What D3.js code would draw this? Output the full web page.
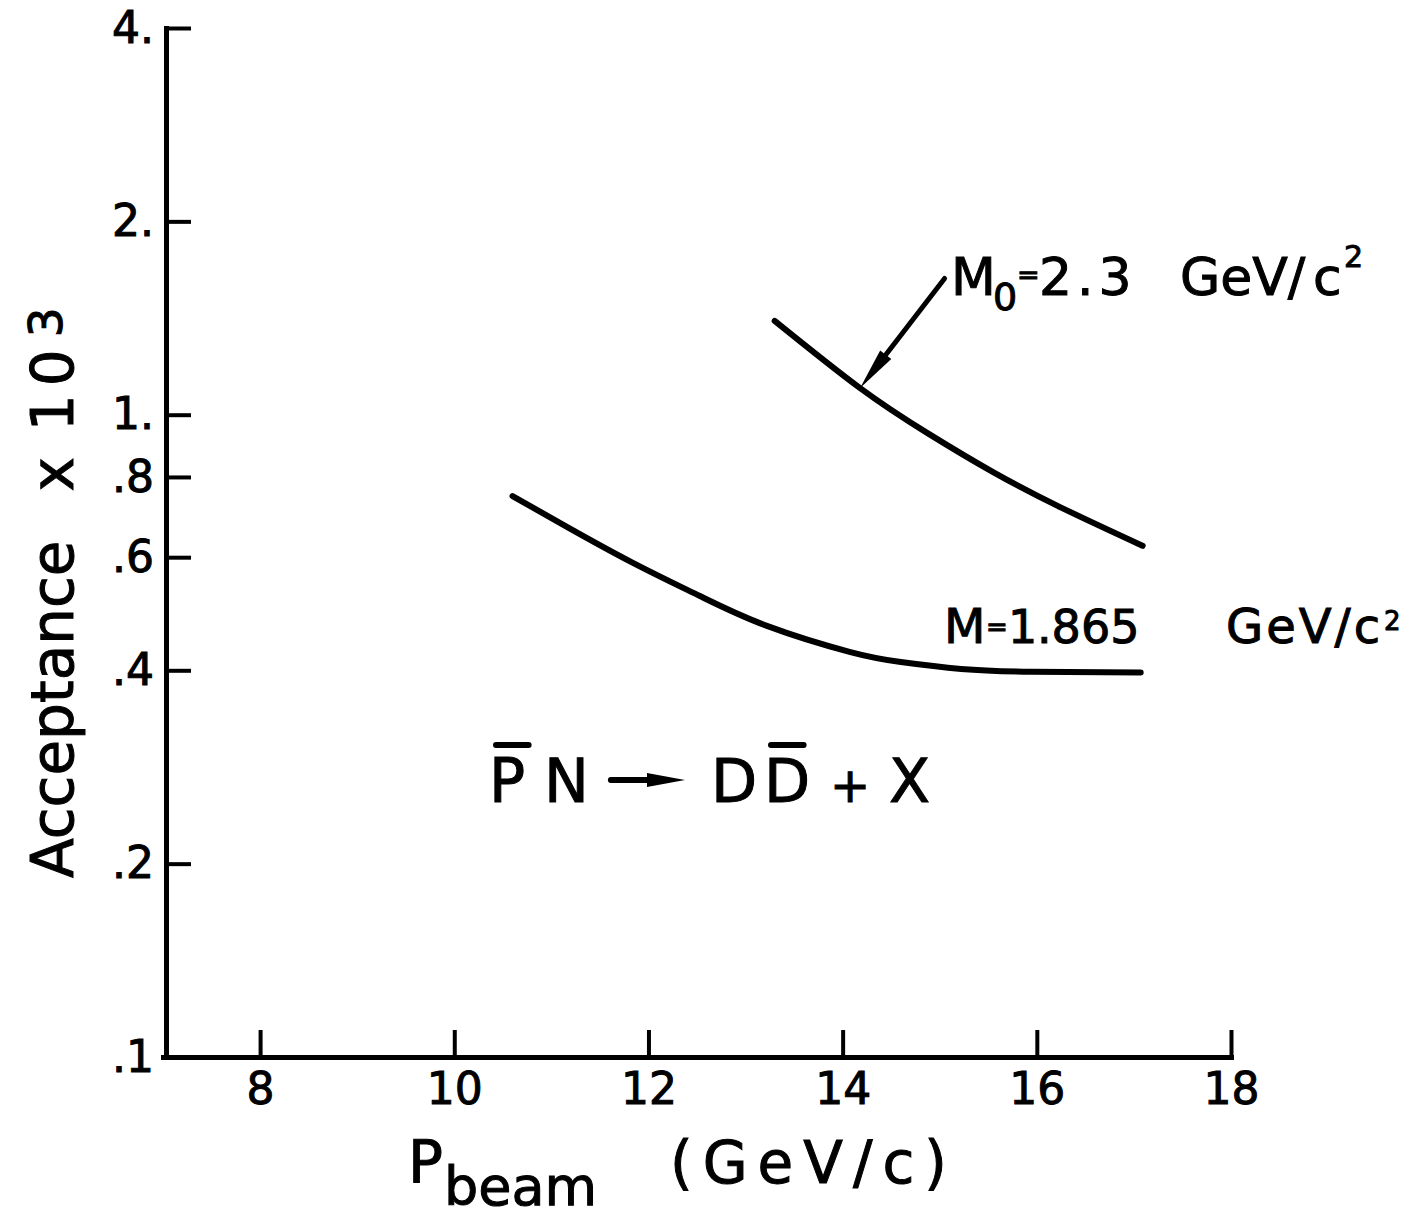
<!DOCTYPE html>
<html>
<head>
<meta charset="utf-8">
<script src="https://cdn.jsdelivr.net/npm/d3@7"></script>
<style>
  body { margin: 0; background: #fff; }
  svg { display: block; }
  text { font-family: "DejaVu Sans", sans-serif; fill: #000; stroke: #000; stroke-width: 1; }
</style>
</head>
<body>
<script>
// M = 1.865 GeV/c^2 curve
const pBeamD = [10.60, 11.16, 11.84, 12.53, 13.22, 14.08, 14.60, 15.22, 15.94, 17.07];
const accD = [0.747, 0.669, 0.588, 0.522, 0.469, 0.427, 0.412, 0.402, 0.398, 0.397];
// M0 = 2.3 GeV/c^2 curve
const pBeamM0 = [13.30, 14.18, 14.87, 15.55, 16.24, 17.09];
const accM0 = [1.40, 1.10, 0.937, 0.814, 0.718, 0.625];

const xTicks = [8, 10, 12, 14, 16, 18];
const yTicks = [0.1, 0.2, 0.4, 0.6, 0.8, 1, 2, 4];
const yTickLabels = [".1", ".2", ".4", ".6", ".8", "1.", "2.", "4."];

// label arrow for the M0 curve, data units
const arrowFrom = [15.05, 1.63];
const arrowTo = [14.18, 1.10];

const width = 1415, height = 1218;

const svg = d3.select("body")
  .append("svg")
  .attr("width", width)
  .attr("height", height);

const x = d3.scaleLinear().domain([7, 18]).range([163, 1231]);
const y = d3.scaleLog().domain([0.1, 4]).range([1057, 28]);

// axes
const xAxis = d3.axisBottom(x)
  .tickValues(xTicks)
  .tickFormat(d3.format("d"))
  .tickSize(-27)
  .tickSizeOuter(0)
  .tickPadding(16);

const gx = svg.append("g")
  .attr("transform", `translate(0,${y(0.1)})`)
  .call(xAxis)
  .attr("font-family", "DejaVu Sans")
  .attr("font-size", 44);
gx.select(".domain").attr("stroke-width", 5).attr("stroke-linecap", "square");
gx.selectAll(".tick line").attr("stroke-width", 4);

const yAxis = d3.axisLeft(y)
  .tickValues(yTicks)
  .tickFormat((d, i) => yTickLabels[i])
  .tickSize(-25)
  .tickSizeOuter(0)
  .tickPadding(12);

const gy = svg.append("g")
  .attr("transform", "translate(166,0)")
  .call(yAxis)
  .attr("font-family", "DejaVu Sans")
  .attr("font-size", 44);
gy.select(".domain").attr("stroke-width", 5).attr("stroke-linecap", "square");
gy.selectAll(".tick line").attr("stroke-width", 4);

// curves
const line = d3.line()
  .x(d => x(d[0]))
  .y(d => y(d[1]))
  .curve(d3.curveNatural);

[d3.zip(pBeamD, accD), d3.zip(pBeamM0, accM0)].forEach(pts => {
  svg.append("path")
    .datum(pts)
    .attr("d", line)
    .attr("fill", "none")
    .attr("stroke", "#000")
    .attr("stroke-width", 6)
    .attr("stroke-linecap", "round");
});

// arrow pointing at the M0 curve
const ax0 = x(arrowFrom[0]), ay0 = y(arrowFrom[1]);
const ax1 = x(arrowTo[0]), ay1 = y(arrowTo[1]);
const ang = Math.atan2(ay1 - ay0, ax1 - ax0);
const ux = Math.cos(ang), uy = Math.sin(ang);
const headLen = 42, headW = 7;
svg.append("line")
  .attr("x1", ax0).attr("y1", ay0)
  .attr("x2", ax1 - ux * headLen * 0.8).attr("y2", ay1 - uy * headLen * 0.8)
  .attr("stroke", "#000")
  .attr("stroke-width", 5)
  .attr("stroke-linecap", "round");
const bx = ax1 - ux * headLen, by = ay1 - uy * headLen;
svg.append("path")
  .attr("d", `M${ax1},${ay1}L${bx - uy * headW},${by + ux * headW}L${bx + uy * headW},${by - ux * headW}Z`)
  .attr("fill", "#000");

// text helper: pieces placed one by one
function drawText(pieces) {
  const t = svg.append("text");
  pieces.forEach(p => {
    const s = t.append("tspan")
      .attr("x", p.x)
      .attr("y", p.y)
      .attr("font-size", p.size)
      .text(p.t);
    if (p.ls) s.attr("letter-spacing", p.ls);
    if (p.bar) s.classed("bar", true);
  });
  return t;
}

// y label
const yl = svg.append("text")
  .attr("transform", "translate(73,878) rotate(-90)")
  .attr("font-size", 58);
yl.append("tspan").text("Acceptance");
yl.append("tspan").attr("dx", 50).text("x");
yl.append("tspan").attr("dx", 26).attr("letter-spacing", 8).text("10");
yl.append("tspan").attr("dx", 4).attr("dy", -11).attr("font-size", 47).text("3");

// x label
drawText([
  { t: "P", x: 408, y: 1182, size: 58 },
  { t: "beam", x: 444, y: 1205, size: 54 },
  { t: "(GeV/c)", x: 670, y: 1183, size: 58, ls: 10 }
]);

// curve labels
drawText([
  { t: "M", x: 951, y: 295, size: 52 },
  { t: "0", x: 993, y: 310, size: 38 },
  { t: "=", x: 1017, y: 284, size: 27 },
  { t: "2.3", x: 1039, y: 295, size: 52, ls: 5 },
  { t: "GeV/", x: 1180, y: 295, size: 52 },
  { t: "c", x: 1313, y: 295, size: 52 },
  { t: "2", x: 1344, y: 267, size: 30 }
]);

drawText([
  { t: "M", x: 944, y: 643, size: 48 },
  { t: "=", x: 986, y: 636, size: 26 },
  { t: "1", x: 1008, y: 643, size: 46 },
  { t: ".865", x: 1037, y: 643, size: 46 },
  { t: "GeV/c", x: 1226, y: 643, size: 48, ls: 3 },
  { t: "2", x: 1384, y: 630, size: 26 }
]);

// reaction
const rx = drawText([
  { t: "P", x: 489, y: 802, size: 60, bar: true },
  { t: "N", x: 544, y: 802, size: 60 },
  { t: "D", x: 711, y: 802, size: 60 },
  { t: "D", x: 764, y: 802, size: 60, bar: true },
  { t: "+", x: 830, y: 802, size: 48 },
  { t: "X", x: 889, y: 802, size: 60 }
]);

// overbars above barred letters
rx.selectAll("tspan.bar").each(function () {
  const s = this.getStartPositionOfChar(0);
  const size = +this.getAttribute("font-size");
  svg.append("line")
    .attr("x1", s.x + 7).attr("x2", s.x + 6 + 0.56 * size)
    .attr("y1", s.y - 57).attr("y2", s.y - 57)
    .attr("stroke", "#000")
    .attr("stroke-width", 6)
    .attr("stroke-linecap", "round");
});

// reaction arrow, drawn between N and D
const nEnd = rx.selectAll("tspan").nodes()[1].getEndPositionOfChar(0);
const dStart = rx.selectAll("tspan").nodes()[2].getStartPositionOfChar(0);
const ra0 = nEnd.x + 22, ra1 = dStart.x - 26, ry = nEnd.y - 22;
svg.append("line")
  .attr("x1", ra0).attr("x2", ra1 - 30)
  .attr("y1", ry).attr("y2", ry)
  .attr("stroke", "#000")
  .attr("stroke-width", 6)
  .attr("stroke-linecap", "round");
svg.append("path")
  .attr("d", `M${ra1},${ry}L${ra1 - 38},${ry - 7}L${ra1 - 38},${ry + 7}Z`)
  .attr("fill", "#000");
</script>
</body>
</html>
